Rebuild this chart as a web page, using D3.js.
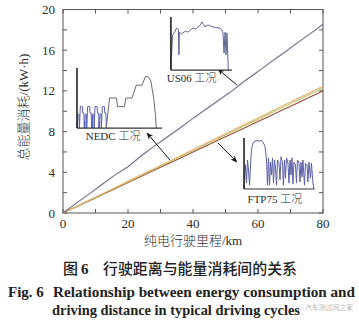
<!DOCTYPE html>
<html><head><meta charset="utf-8">
<script src="https://cdn.jsdelivr.net/npm/d3@7"></script>
<style>body{margin:0;background:#fff}svg{display:block}</style>
</head><body>
<svg id="c" width="359" height="325"></svg>
<script>
// ---- main chart data ----
const distance = [0,4,8,12,16,20,24,28,32,36,40,44,48,52,56,60,64,68,72,76,80];
const us06Energy  = [0,0.95,1.85,2.8,3.75,4.55,5.6,6.55,7.45,8.35,9.3,10.2,11.1,12.0,13.0,13.9,14.85,15.75,16.7,17.6,18.55];
const ftp75Energy = [0,0.63,1.25,1.88,2.49,3.11,3.74,4.36,4.97,5.6,6.22,6.86,7.47,8.1,8.73,9.34,9.97,10.6,11.22,11.84,12.45];
const nedcEnergy  = [0,0.61,1.22,1.84,2.45,3.06,3.68,4.29,4.91,5.52,6.13,6.75,7.36,7.98,8.59,9.2,9.82,10.43,11.05,11.66,12.28];
const refEnergy   = [0,0.6,1.19,1.79,2.39,2.99,3.59,4.19,4.79,5.39,5.99,6.59,7.19,7.79,8.39,8.99,9.59,10.19,10.79,11.39,12.0];
const xTickLabels = [0,20,40,60,80];
const yTickLabels = [0,4,8,12,16,20];

// ---- inset cycle profiles (distance km, speed km/h) ----
const nedcEceDist = [0,0.03,0.06,0.08,0.13,0.30,0.34,0.46,0.75,0.80,0.96,1.01,
  1.04,1.07,1.09,1.14,1.31,1.35,1.47,1.76,1.81,1.97,2.03,
  2.06,2.09,2.11,2.16,2.33,2.37,2.49,2.78,2.83,2.99,3.04,
  3.07,3.10,3.12,3.17,3.34,3.38,3.50,3.79,3.84,4.00,4.05];
const nedcEceSpeed = [0,15,15,0,32,32,0,50,50,35,35,0,
  15,15,0,32,32,0,50,50,35,35,0,
  15,15,0,32,32,0,50,50,35,35,0,
  15,15,0,32,32,0,50,50,35,35,0];
const nedcEudcDist  = [4.05,4.5,5.45,5.6,6.55,6.75,7.6,8.2,9.0,9.45,9.8,10.2,10.6,10.85,10.96];
const nedcEudcSpeed = [0,70,70,50,50,70,70,100,100,120,120,110,70,30,0];

const us06Dist  = [0,0.37,0.8,1.26,1.65,1.76,1.87,2.3,2.64,3.2,3.74,4.3,4.85,5.4,5.95,6.4,6.83,7.2,7.49,8.15,8.7,9.25,10.0,10.79,11.2,11.45,11.67,11.9,12.1,12.33,12.62];
const us06Speed = [0,92,100,111,106,40,100,96,98,103,100,106,111,108,114,118,127,120,114,119,116,114,112,111,106,98,45,100,40,98,0];

const ftpDist  = [0,0.38,0.63,0.89,1.14,1.4,1.65,1.9,2.28,2.79,3.3,3.81,4.31,4.82,5.33,5.71,5.96,6.22,6.47,6.73,6.98,7.23,7.49,7.74,8.0,8.25,8.5,8.88,9.14,9.39,9.77,10.0,10.28,10.53,10.79,11.17,11.42,11.68,11.93,12.18,12.44,12.69,13.07,13.32,13.58,13.96,14.21,14.47,14.72,14.97,15.36,15.61,15.99,16.24,16.5,16.88,17.13,17.51,17.77];
const ftpSpeed = [0,45,11,54,35,7,45,73,86,89,91,89,91,87,80,54,7,58,7,50,26,58,11,54,39,7,54,48,17,60,50,7,54,20,58,48,11,54,26,58,9,50,45,11,54,48,13,50,22,54,7,48,45,13,50,20,48,11,0];

const cycleLabels = ["NEDC 工况","US06 工况","FTP75 工况"];

// ---- drawing ----
const svg = d3.select("#c");
const x = d3.scaleLinear().domain([0,80]).range([63,323]);
const y = d3.scaleLinear().domain([0,20]).range([213,9.5]);
const ink = "#2b2b2b";

// frame
svg.append("rect").attr("x",x(0)).attr("y",y(20)).attr("width",x(80)-x(0)).attr("height",y(0)-y(20))
  .attr("fill","none").attr("stroke","#555").attr("stroke-width",1);

const xt = d3.range(0,81,10), yt = d3.range(0,21,2);
const tk = 4;
const tg = svg.append("g").attr("stroke","#555").attr("stroke-width",1);
xt.forEach(v=>{
  tg.append("line").attr("x1",x(v)).attr("x2",x(v)).attr("y1",y(0)).attr("y2",y(0)-tk);
  tg.append("line").attr("x1",x(v)).attr("x2",x(v)).attr("y1",y(20)).attr("y2",y(20)+tk);
});
yt.forEach(v=>{
  tg.append("line").attr("y1",y(v)).attr("y2",y(v)).attr("x1",x(0)).attr("x2",x(0)+tk);
  tg.append("line").attr("y1",y(v)).attr("y2",y(v)).attr("x1",x(80)).attr("x2",x(80)-tk);
});
const serif = "'Liberation Serif','Times New Roman',serif";
xTickLabels.forEach(v=>{
  svg.append("text").attr("x",x(v)).attr("y",228).attr("text-anchor","middle")
    .attr("font-family",serif).attr("font-size",13).attr("fill",ink).text(v);
});
yTickLabels.forEach(v=>{
  svg.append("text").attr("x",55).attr("y",y(v)+4.5).attr("text-anchor","end")
    .attr("font-family",serif).attr("font-size",13).attr("fill",ink).text(v);
});

// axis titles
const cjk = "'Noto Sans CJK SC','Noto Sans',sans-serif";
const yl = svg.append("text").attr("transform","translate(28,107) rotate(-90)").attr("text-anchor","middle")
  .attr("font-size",13).attr("fill",ink);
yl.append("tspan").attr("font-family",cjk).attr("font-weight",300).text("总能量消耗");
yl.append("tspan").attr("font-family",serif).text("/(kW·h)");
const xl = svg.append("text").attr("x",193).attr("y",245).attr("text-anchor","middle").attr("font-size",13).attr("fill",ink);
xl.append("tspan").attr("font-family",cjk).attr("font-weight",300).text("纯电行驶里程");
xl.append("tspan").attr("font-family",serif).text("/km");

// energy lines
const line = d3.line().x((d,i)=>x(distance[i])).y(d=>y(d));
const series = [
  {v:refEnergy,c:"#9c4a36"},
  {v:nedcEnergy,c:"#b9c46c"},
  {v:ftp75Energy,c:"#e2b46e"},
  {v:us06Energy,c:"#6a6c86"}
];
series.forEach(s=>{
  svg.append("path").datum(s.v).attr("d",line).attr("fill","none").attr("stroke",s.c).attr("stroke-width",1.1);
});

// arrows
const defs = svg.append("defs");
defs.append("marker").attr("id","ah").attr("viewBox","0 0 10 10").attr("refX",9).attr("refY",5)
  .attr("markerWidth",7).attr("markerHeight",7).attr("orient","auto")
  .append("path").attr("d","M0,1 L10,5 L0,9 L3,5 Z").attr("fill","#111");
const arrows = [[32.9,5.2,25.85,7.86],[53.5,12.58,47.7,14.15],[47.7,6.88,53.5,5.01]];
arrows.forEach(a=>{
  svg.append("line").attr("x1",x(a[0])).attr("y1",y(a[1])).attr("x2",x(a[2])).attr("y2",y(a[3]))
    .attr("stroke","#111").attr("stroke-width",1).attr("marker-end","url(#ah)");
});

// insets
function inset(cfg){
  const ix = d3.scaleLinear().domain(cfg.xd).range([x(cfg.x0),x(cfg.x1)]);
  const iy = d3.scaleLinear().domain(cfg.yd).range([y(cfg.y0),y(cfg.y1)]);
  const g = svg.append("g");
  g.append("rect").attr("x",x(cfg.x0)).attr("y",y(cfg.y1)).attr("width",x(cfg.xe)-x(cfg.x0)).attr("height",y(cfg.y0)-y(cfg.y1)).attr("fill","#fff");
  const l = d3.line().x(d=>ix(d[0])).y(d=>iy(d[1]));
  cfg.paths.forEach(p=>{
    g.append("path").datum(p.d.map((v,i)=>[v,p.s[i]])).attr("d",l).attr("fill","none")
      .attr("stroke",p.c).attr("stroke-width",1).attr("stroke-linejoin","round");
  });
  g.append("line").attr("x1",x(cfg.x0)).attr("x2",x(cfg.xe)).attr("y1",y(cfg.y0)).attr("y2",y(cfg.y0)).attr("stroke","#333").attr("stroke-width",1.2);
  g.append("line").attr("x1",x(cfg.x0)).attr("x2",x(cfg.x0)).attr("y1",y(cfg.y0)).attr("y2",y(cfg.y1)).attr("stroke","#222").attr("stroke-width",1.6);
  const t = g.append("text").attr("x",x(cfg.lx)).attr("y",y(cfg.ly)).attr("text-anchor","middle").attr("font-size",11).attr("fill",ink);
  const parts = cfg.label.split(" ");
  t.append("tspan").attr("font-family",serif).text(parts[0]+" ");
  t.append("tspan").attr("font-family",cjk).attr("font-weight",300).text(parts[1]);
}
inset({x0:4.3,x1:28.8,xe:30.5,y0:8.35,y1:14.25,xd:[0,11],yd:[0,140],lx:15.4,ly:7.17,label:cycleLabels[0],
  paths:[{d:nedcEceDist,s:nedcEceSpeed,c:"#5660b4"},{d:nedcEudcDist,s:nedcEudcSpeed,c:"#6a6a6a"}]});
inset({x0:33.2,x1:51.4,xe:52,y0:14.05,y1:19.26,xd:[0,13],yd:[0,140],lx:39.6,ly:12.87,label:cycleLabels[1],
  paths:[{d:us06Dist,s:us06Speed,c:"#5f6494"}]});
inset({x0:55.7,x1:77.5,xe:77.3,y0:2.36,y1:7.37,xd:[0,18],yd:[0,95],lx:65.2,ly:0.98,label:cycleLabels[2],
  paths:[{d:ftpDist,s:ftpSpeed,c:"#5a5fa6"}]});

// captions
const c1 = svg.append("text").attr("y",274).attr("fill","#222");
c1.append("tspan").attr("x",63).attr("font-family",cjk).attr("font-weight",500).attr("font-size",15).text("图");
c1.append("tspan").attr("x",81).attr("font-family",serif).attr("font-weight",700).attr("font-size",15).text("6");
c1.append("tspan").attr("x",103).attr("font-family",cjk).attr("font-weight",500).attr("font-size",15)
  .attr("textLength",194).attr("lengthAdjust","spacingAndGlyphs").text("行驶距离与能量消耗间的关系");
svg.append("text").attr("x",8).attr("y",297).attr("font-family",serif).attr("font-weight",700).attr("font-size",15).attr("fill","#222").text("Fig. 6");
svg.append("text").attr("x",53).attr("y",297).attr("font-family",serif).attr("font-weight",700).attr("font-size",15).attr("fill","#222")
  .attr("textLength",302).attr("lengthAdjust","spacingAndGlyphs").text("Relationship between energy consumption and");
svg.append("text").attr("x",52).attr("y",315).attr("font-family",serif).attr("font-weight",700).attr("font-size",15).attr("fill","#222")
  .attr("textLength",248).attr("lengthAdjust","spacingAndGlyphs").text("driving distance in typical driving cycles");
svg.append("text").attr("x",305).attr("y",310).attr("font-family",cjk).attr("font-size",7).attr("fill","#9a9a9a").attr("opacity",0.7)
  .attr("textLength",48).attr("lengthAdjust","spacingAndGlyphs").text("汽车测试网之家");
</script>
</body></html>
